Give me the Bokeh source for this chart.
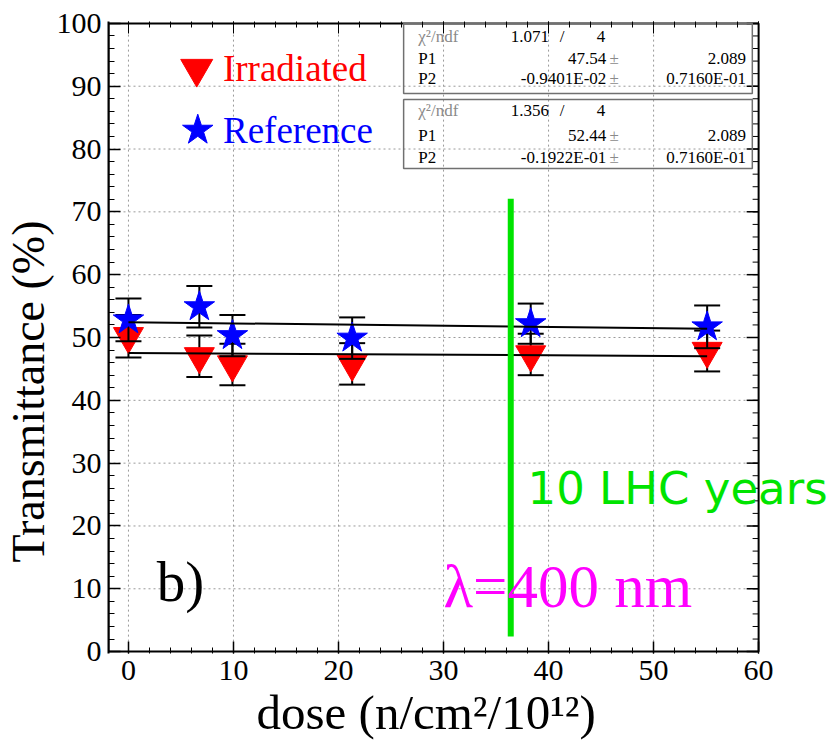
from bokeh.plotting import figure
from bokeh.models import Range1d, FixedTicker, LinearAxis, CustomJSTickFormatter, Title
from bokeh.core.properties import value
from bokeh.embed import file_html
from bokeh.resources import INLINE

# ---------------- data ----------------
dose = [0.0, 6.75, 9.9, 21.3, 38.3, 55.1]
trans_irr = [50.2, 47.0, 45.7, 45.8, 47.3, 47.85]
err_irr = [3.4, 3.3, 3.3, 3.3, 3.3, 3.25]
trans_ref = [52.8, 54.9, 50.3, 49.9, 52.2, 51.7]
err_ref = [3.4, 3.3, 3.3, 3.3, 3.2, 3.4]

fit_irr = [47.54, -0.9401e-02]   # P1, P2
fit_ref = [52.44, -0.1922e-01]
fit_range = [0.0, 55.1]

stats_irr = ["1.071", "4", "47.54", "2.089", "-0.9401E-02", "0.7160E-01"]
stats_ref = ["1.356", "4", "52.44", "2.089", "-0.1922E-01", "0.7160E-01"]

lhc_dose = 36.4
lhc_span = [2.4, 72.1]

x_major = [0, 10, 20, 30, 40, 50, 60]
y_major = [0, 10, 20, 30, 40, 50, 60, 70, 80, 90, 100]
x_minor = list(range(0, 61, 2))
y_minor = list(range(0, 101, 2))

X0, X1 = -1.9, 60.0      # plotted frame in data units
Y0, Y1 = 0.0, 100.0

SERIF = "Liberation Serif"

# the canvas frame runs to the right edge so that "10 LHC years" can overflow the drawn frame
p = figure(width=833, height=751, output_backend="svg", toolbar_location=None,
           x_range=Range1d(X0, 67.13), y_range=Range1d(-0.3, 100.3),
           min_border_left=107, min_border_right=0, min_border_top=21, min_border_bottom=98)
p.background_fill_color = "white"
p.border_fill_color = "white"
p.outline_line_color = None
p.grid.visible = False

xt = FixedTicker(ticks=x_major, minor_ticks=x_minor)
yt = FixedTicker(ticks=y_major, minor_ticks=y_minor)

for ax, t in ((p.xaxis[0], xt), (p.yaxis[0], yt)):
    ax.ticker = t
    ax.major_tick_in = 12
    ax.major_tick_out = 0
    ax.minor_tick_in = 6
    ax.minor_tick_out = 0
    ax.axis_line_width = 2
    ax.major_tick_line_width = 1.5
    ax.minor_tick_line_width = 1
    ax.major_label_text_font = SERIF
    ax.major_label_text_font_size = "30px"
    ax.major_label_text_color = "black"
p.xaxis.axis_line_color = None
p.xaxis.major_label_standoff = 7
p.yaxis.major_label_standoff = 7

top_ax = LinearAxis(ticker=xt, formatter=CustomJSTickFormatter(code="return ''"),
                    major_tick_in=12, major_tick_out=0, minor_tick_in=6, minor_tick_out=0,
                    axis_line_color=None, major_label_standoff=0, major_label_text_font_size="0px")
p.add_layout(top_ax, "above")

p.add_layout(Title(text="dose (n/cm\u00b2/10\u00b9\u00b2)", align="left", offset=148, standoff=0,
                   text_font=SERIF, text_font_size="49px", text_font_style="normal",
                   text_color="black"), "below")
p.add_layout(Title(text="Transmittance (%)", align="left", offset=91, standoff=0,
                   text_font=SERIF, text_font_size="46px", text_font_style="normal",
                   text_color="black"), "left")

# grid (dotted) inside the drawn frame
gx = [v for v in x_major if X0 < v < X1]
gy = [v for v in y_major if Y0 < v < Y1]
p.segment(x0=gx, y0=[Y0] * len(gx), x1=gx, y1=[Y1] * len(gx),
          line_color="#9a9a9a", line_dash="2 3", line_width=1)
p.segment(x0=[X0] * len(gy), y0=gy, x1=[X1] * len(gy), y1=gy,
          line_color="#9a9a9a", line_dash="2 3", line_width=1)

# right-hand ticks (pointing inward)
px_per_x = 10.517
p.segment(x0=[X1] * len(y_major), y0=y_major, x1=[X1 - 12 / px_per_x] * len(y_major), y1=y_major,
          line_color="black", line_width=1.5)
p.segment(x0=[X1] * len(y_minor), y0=y_minor, x1=[X1 - 6 / px_per_x] * len(y_minor), y1=y_minor,
          line_color="black", line_width=1)

# frame
p.quad(left=[X0], right=[X1], bottom=[Y0], top=[Y1], fill_color=None,
       line_color="black", line_width=2)

# ---------------- error bars & markers ----------------
def draw_series(y, e, color, marker, size):
    lo = [a - b for a, b in zip(y, e)]
    hi = [a + b for a, b in zip(y, e)]
    p.segment(x0=dose, y0=lo, x1=dose, y1=hi, line_color="black", line_width=2)
    p.scatter(x=dose + dose, y=lo + hi, marker="dash", size=26, line_color="black", line_width=2)
    p.scatter(x=dose, y=y, marker=marker, size=size, fill_color=color, line_color=color)

draw_series(trans_irr, err_irr, "red", "inverted_triangle", 30)
draw_series(trans_ref, err_ref, "blue", "star", 32)

# fit lines
for par in (fit_irr, fit_ref):
    ys = [par[0] + par[1] * x for x in fit_range]
    p.line(x=fit_range, y=ys, line_color="black", line_width=2)

# green line
p.segment(x0=[lhc_dose], y0=[lhc_span[0]], x1=[lhc_dose], y1=[lhc_span[1]],
          line_color="#00e400", line_width=6, line_cap="butt")

# ---------------- texts ----------------
p.text(x=[38.0], y=[26.0], text=["10 LHC years"], text_color="#00e400",
       text_font=value("DejaVu Sans"), text_font_size=value("45px"), text_baseline="middle")
p.text(x=[30.0], y=[10.4], text=["\u03bb=400 nm"], text_color="#ff00ff",
       text_font=value(SERIF), text_font_size=value("61px"), text_baseline="middle")
p.text(x=[2.7], y=[11.2], text=["b)"], text_color="black",
       text_font=value(SERIF), text_font_size=value("57px"), text_baseline="middle")

# legend
p.scatter(x=[6.5], y=[92.8], marker="inverted_triangle", size=32, fill_color="red", line_color="red")
p.scatter(x=[6.6], y=[83.0], marker="star", size=32, fill_color="blue", line_color="blue")
p.text(x=[9.0], y=[92.8], text=["Irradiated"], text_color="red",
       text_font=value(SERIF), text_font_size=value("37px"), text_baseline="middle")
p.text(x=[9.0], y=[83.0], text=["Reference"], text_color="blue",
       text_font=value(SERIF), text_font_size=value("37px"), text_baseline="middle")

# stat boxes
def stat_box(top, bottom, rows_y, st):
    p.quad(left=[26.2], right=[59.4], top=[top], bottom=[bottom], fill_color=None,
           line_color="#707070", line_width=1.5)
    kw = dict(text_font=value(SERIF), text_font_size=value("17px"), text_baseline="middle")
    p.text(x=[27.6], y=[rows_y[0]], text=["\u03c7\u00b2/ndf"], text_color="#8a8a8a", **kw)
    p.text(x=[36.4], y=[rows_y[0]], text=[st[0]], text_color="black", **kw)
    p.text(x=[41.3], y=[rows_y[0]], text=["/"], text_color="black", text_align="center", **kw)
    p.text(x=[45.0], y=[rows_y[0]], text=[st[1]], text_color="black", text_align="center", **kw)
    p.text(x=[27.6, 27.6], y=rows_y[1:], text=["P1", "P2"], text_color="black", **kw)
    p.text(x=[45.5, 45.5], y=rows_y[1:], text=[st[2], st[4]], text_color="black", text_align="right", **kw)
    p.text(x=[45.8, 45.8], y=rows_y[1:], text=["\u00b1", "\u00b1"], text_color="#8a8a8a", **kw)
    p.text(x=[58.8, 58.8], y=rows_y[1:], text=[st[3], st[5]], text_color="black", text_align="right", **kw)

stat_box(100, 88.85, [97.9, 94.4, 91.2], stats_irr)
stat_box(87.9, 76.9, [86.1, 82.2, 78.7], stats_ref)

open("out.html", "w").write(file_html(p, INLINE))
